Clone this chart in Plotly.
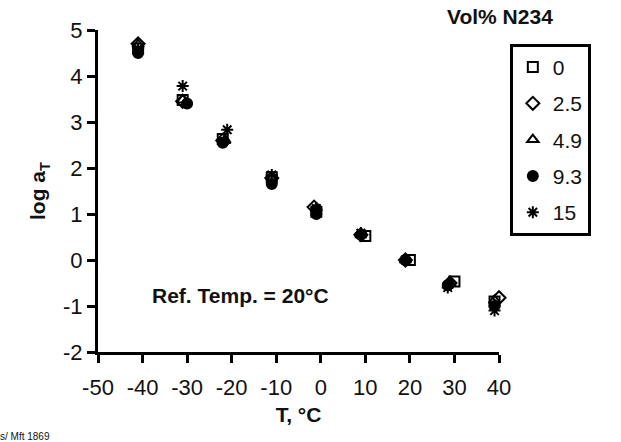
import plotly.graph_objects as go

series_names = ["0", "2.5", "4.9", "9.3", "15"]
symbols = ["square-open", "diamond-open", "triangle-up-open", "circle", "asterisk-open"]

x_0 = [-41, -31, -22, -11, -1, 10, 20, 30, 39]
y_0 = [4.6, 3.48, 2.63, 1.8, 1.05, 0.52, 0.0, -0.47, -0.9]
x_25 = [-41, -31, -22, -11, -1.5, 9, 19, 29, 40]
y_25 = [4.7, 3.45, 2.6, 1.78, 1.15, 0.55, 0.0, -0.5, -0.82]
x_49 = [-41, -31, -21.5, -11, -1, 9, 19, 29, 39]
y_49 = [4.68, 3.48, 2.6, 1.8, 1.12, 0.55, 0.0, -0.5, -0.88]
x_93 = [-41, -30, -22, -11, -1, 9, 19, 28.5, 39]
y_93 = [4.5, 3.4, 2.55, 1.65, 1.0, 0.55, 0.0, -0.55, -1.0]
x_15 = [-41, -31, -21, -11, -1, 9, 19, 28.5, 39]
y_15 = [4.6, 3.78, 2.83, 1.85, 1.12, 0.58, 0.0, -0.6, -1.1]

xs = [x_0, x_25, x_49, x_93, x_15]
ys = [y_0, y_25, y_49, y_93, y_15]

x_ticks = [-50, -40, -30, -20, -10, 0, 10, 20, 30, 40]
x_ticklabels = ["-50", "-40", "-30", "-20", "-10", "0", "10", "20", "30", "40"]
y_ticks = [-2, -1, 0, 1, 2, 3, 4, 5]
y_ticklabels = ["-2", "-1", "0", "1", "2", "3", "4", "5"]

FONT = "Liberation Sans, Arial, sans-serif"

fig = go.Figure()
for i, (name, sym, x, y) in enumerate(zip(series_names, symbols, xs, ys)):
    fig.add_trace(go.Scatter(
        x=x, y=y, mode="markers", name=name, legendgroup=name,
        marker=dict(symbol=sym, size=10, color="black",
                    line=dict(color="black", width=2)),
        cliponaxis=False,
    ))

fig.update_layout(
    width=621, height=442,
    margin=dict(l=98, r=122, t=30, b=90),
    paper_bgcolor="white", plot_bgcolor="white",
    font=dict(family=FONT, color="#111", size=20),
    showlegend=True,
    legend=dict(
        x=1.027, y=0.957, xanchor="left", yanchor="top",
        bordercolor="black", borderwidth=3,
        font=dict(size=21, family=FONT),
        tracegroupgap=6, traceorder="grouped",
        itemwidth=30,
    ),
    xaxis=dict(
        range=[-50, 40], tickvals=x_ticks, ticktext=x_ticklabels,
        showgrid=False, zeroline=False,
        showline=True, linecolor="black", linewidth=3,
        ticks="outside", ticklen=8, tickwidth=3, tickcolor="black",
        tickfont=dict(size=22), ticklabelstandoff=6,
        title=dict(text="<b>T, °C</b>", font=dict(size=21), standoff=8),
    ),
    yaxis=dict(
        range=[-2, 5], tickvals=y_ticks, ticktext=y_ticklabels,
        showgrid=False, zeroline=False,
        showline=True, linecolor="black", linewidth=3,
        ticks="outside", ticklen=8, tickwidth=3, tickcolor="black",
        tickfont=dict(size=22),
        title=dict(text="<b>log a<sub>T</sub></b>", font=dict(size=21), standoff=12),
    ),
)

fig.add_annotation(x=-18, y=-0.78, xref="x", yref="y", text="<b>Ref. Temp. = 20°C</b>",
                   showarrow=False, font=dict(size=21))
fig.add_annotation(x=1.14, y=1.0, xref="paper", yref="paper", yanchor="bottom",
                   text="<b>Vol% N234</b>", showarrow=False, font=dict(size=21))
fig.add_annotation(x=0, y=0, xref="paper", yref="paper", xanchor="left", yanchor="bottom",
                   text="s/ Mft 1869", showarrow=False, font=dict(size=10),
                   xshift=-100, yshift=-92)

fig.write_html("out.html", config={"displayModeBar": False},
               post_script="document.body.style.margin='0';")
